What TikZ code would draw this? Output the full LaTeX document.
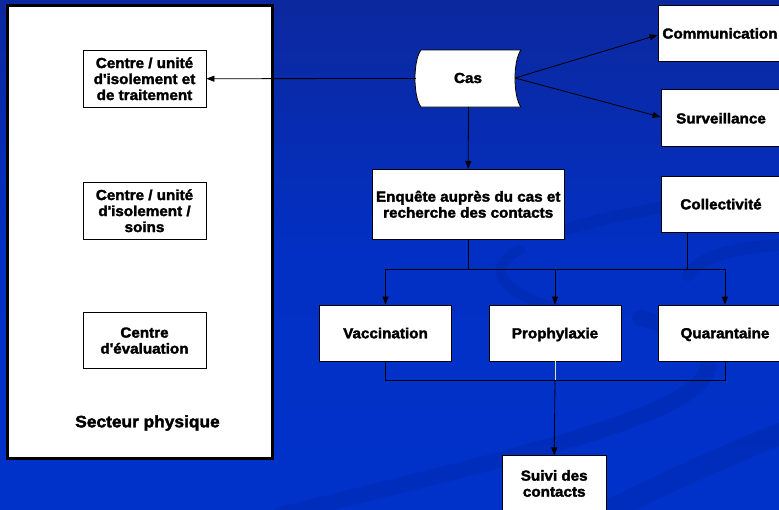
\documentclass[tikz,border=0pt]{standalone}
\usepackage{fontspec}
\setmainfont{Liberation Sans}[FakeStretch=1.05, BoldFeatures={FakeBold=2.2}]
\usetikzlibrary{arrows.meta}
\definecolor{bgtop}{RGB}{12,40,158}
\definecolor{bgmid}{RGB}{2,48,196}
\definecolor{bgbot}{RGB}{0,50,202}
\definecolor{swoosh}{RGB}{0,38,165}
\definecolor{paleline}{RGB}{225,225,170}
\newcommand{\apos}{\textquotesingle}
\tikzset{
  box/.style={draw=black, line width=0.8pt, fill=white, align=center,
    font=\fontsize{14.5}{16}\selectfont\bfseries, inner sep=0pt, text depth=0pt},
  link/.style={draw=black, line width=0.8pt},
  arr/.style={link, -{Triangle[length=8pt,width=6pt]}},
  band/.style={draw=swoosh, opacity=0.38, line cap=round},
}
\begin{document}
\begin{tikzpicture}[x=1pt,y=-1pt]
\useasboundingbox (0,0) rectangle (779,509);
\clip (0,0) rectangle (779,509);
% background
\shade[top color=bgtop, bottom color=bgbot, middle color=bgmid] (0,0) rectangle (779,509);
% soft swooshes
\draw[band, line width=16pt] (280,515) .. controls (480,465) and (660,425) .. (700,382) .. controls (725,355) and (690,330) .. (640,318);
\draw[band, line width=22pt] (590,520) .. controls (680,475) and (740,450) .. (795,428);
\draw[band, line width=10pt] (520,250) .. controls (480,270) and (500,300) .. (600,318);
\draw[band, line width=12pt] (565,230) .. controls (600,218) and (640,212) .. (668,206);
\draw[band, line width=12pt] (688,275) .. controls (700,255) and (740,246) .. (795,244);

% left sector
\node[draw=black, line width=3pt, fill=white, minimum width=265pt, minimum height=453pt, inner sep=0pt] (sector) at (139.5,231.5) {};
\node[box, minimum width=123pt, minimum height=56.7pt] (iso1) at (144.5,78.7) {Centre / unité\\d\apos isolement et\\de traitement};
\node[box, minimum width=123pt, minimum height=56.7pt] (iso2) at (144.5,210.7) {Centre / unité\\d\apos isolement /\\soins};
\node[box, minimum width=123pt, minimum height=56.7pt] (eval) at (144.5,340.5) {Centre\\d\apos évaluation};
\node[font=\fontsize{16.5}{18}\selectfont\bfseries, inner sep=0pt] (sectlabel) at (147.5,423) {Secteur physique};

% case node (stored-data shape)
\node[minimum width=105pt, minimum height=57pt, inner sep=0pt] (cas) at (468.5,78.5) {};
\draw[fill=white, draw=black, line width=0.8pt]
  (421,50) -- (521,50) .. controls (513,60) and (513,97) .. (521,107)
  -- (421,107) .. controls (413,97) and (413,60) .. (421,50) -- cycle;
\node[font=\fontsize{14.5}{16}\selectfont\bfseries] (castext) at (468,78) {Cas};
\coordinate (casR) at (515,78);

% right column
\node[box, minimum width=124pt, minimum height=56.7pt] (comm) at (720,33.3) {Communication};
\node[box, minimum width=120pt, minimum height=57pt] (surv) at (721,118.2) {Surveillance};
\node[box, minimum width=120pt, minimum height=56pt] (coll) at (721,204) {Collectivité};

\node[box, minimum width=191.7pt, minimum height=69.7pt] (enq) at (468.2,204.2) {Enquête auprès du cas et\\recherche des contacts};

\node[box, minimum width=132.4pt, minimum height=56pt] (vacc) at (385.5,333) {Vaccination};
\node[box, minimum width=132pt, minimum height=56pt] (proph) at (555,333) {Prophylaxie};
\node[box, minimum width=132.6pt, minimum height=56pt] (quar) at (725,333) {Quarantaine};
\node[box, minimum width=103.7pt, minimum height=55.4pt] (suivi) at (554.2,483.4) {Suivi des\\contacts};

% connectors from the case
\draw[arr] (cas.west) -- (iso1.east);
\draw[arr] (casR) -- (comm.west |- 0,35);
\draw[arr] (casR) -- (surv.west |- 0,117);
\draw[arr] (cas.south) -- (enq.north);

% distribution bus
\coordinate (busL) at (385.5,269.3);
\coordinate (busR) at (725,269.3);
\coordinate (collDrop) at (687.3,269.3);
\draw[link] (enq.south) -- (enq.south |- busL);
\draw[link] (collDrop |- coll.south) -- (collDrop);
\draw[link] (busL) -- (busR);
\draw[arr] (busL) -- (vacc.north);
\draw[arr] (proph.north |- busL) -- (proph.north);
\draw[arr] (busR) -- (quar.north);

% collection bus
\coordinate (lowL) at (385.5,380);
\coordinate (lowR) at (725,380);
\coordinate (lowM) at (555,380);
\draw[link] (vacc.south) -- (lowL) -- (lowR) -- (quar.south);
\draw[draw=paleline, line width=0.8pt] (proph.south) -- (lowM);
\draw[arr] (lowM) -- (suivi.north);
\end{tikzpicture}
\end{document}
